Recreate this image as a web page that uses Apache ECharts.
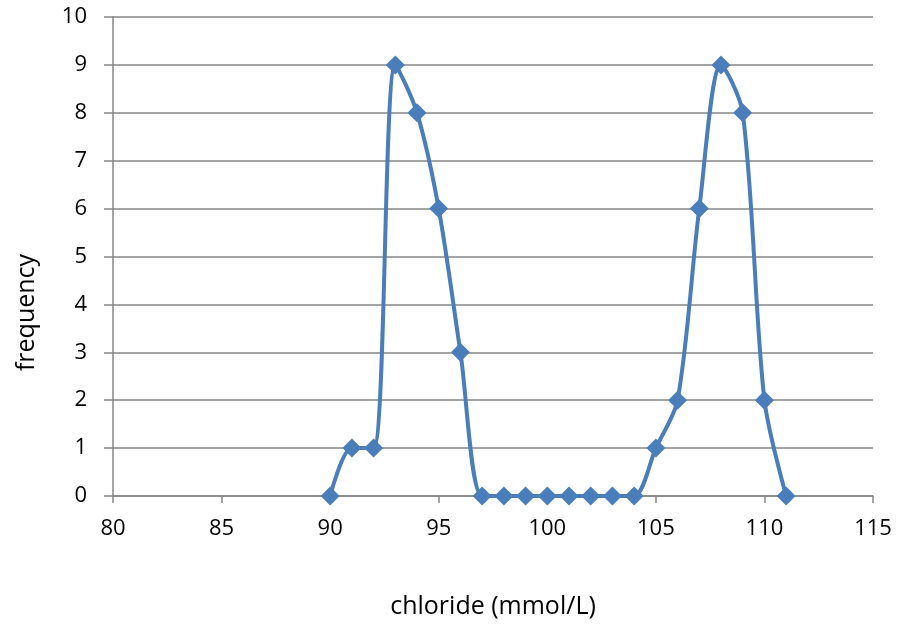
<!DOCTYPE html>
<html>
<head>
<meta charset="utf-8">
<script src="https://cdn.jsdelivr.net/npm/echarts@6/dist/echarts.min.js"></script>
<style>
  html, body { margin: 0; padding: 0; background: #fff; }
  #chart { width: 901px; height: 625px; }
</style>
</head>
<body>
<div id="chart"></div>
<script>
// chloride (mmol/L) vs frequency
const chloride = [90, 91, 92, 93, 94, 95, 96, 97, 98, 99, 100, 101, 102, 103, 104, 105, 106, 107, 108, 109, 110, 111]
const frequency = [0, 1, 1, 9, 8, 6, 3, 0, 0, 0, 0, 0, 0, 0, 0, 1, 2, 6, 9, 8, 2, 0]

const chart = echarts.init(document.getElementById('chart'))
const font = '"Open Sans", "Liberation Sans", sans-serif'

const option = {
  animation: false,
  grid: { left: 113, right: 28, top: 17, bottom: 129, outerBoundsMode: 'none' },
  xAxis: {
    type: 'value',
    min: 80,
    max: 115,
    interval: 5,
    name: 'chloride (mmol/L)',
    nameLocation: 'middle',
    nameGap: 98,
    nameTextStyle: { fontFamily: font, fontSize: 25, color: '#000' },
    axisLine: { show: true, onZero: false, lineStyle: { color: '#868686', width: 1.5 } },
    axisTick: { show: true, length: 7, lineStyle: { color: '#868686', width: 1.5 } },
    axisLabel: { fontFamily: font, fontSize: 22, color: '#000', margin: 22 },
    splitLine: { show: false }
  },
  yAxis: {
    type: 'value',
    min: 0,
    max: 10,
    interval: 1,
    name: 'frequency',
    nameLocation: 'middle',
    nameGap: 74,
    nameTextStyle: { fontFamily: font, fontSize: 25, color: '#000', padding: [0, 0, 0, -112] },
    axisLine: { show: true, lineStyle: { color: '#868686', width: 1.5 } },
    axisTick: { show: true, inside: false, length: 9, lineStyle: { color: '#868686', width: 1.5 } },
    axisLabel: { fontFamily: font, fontSize: 22, color: '#000', margin: 26 },
    splitLine: { show: true, lineStyle: { color: '#868686', width: 1.5 } }
  },
  series: [
    {
      type: 'line',
      data: chloride.map((x, i) => [x, frequency[i]]),
      smooth: 0.3,
      symbol: 'diamond',
      symbolSize: 19,
      lineStyle: { color: '#4a7ebb', width: 4 },
      itemStyle: { color: '#4a7ebb' }
    }
  ]
}

chart.setOption(option)
</script>
</body>
</html>
